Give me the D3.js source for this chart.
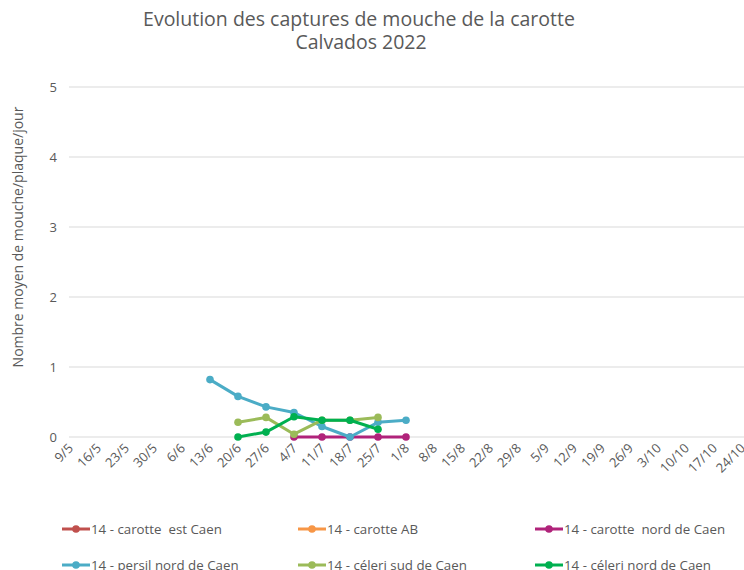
<!DOCTYPE html>
<html>
<meta charset="utf-8" />
<script src="https://d3js.org/d3.v7.min.js"></script>

<body>
    <style>
        body, html { margin: 0; padding: 0; background: #fff; overflow: hidden; }
        text { font-family: "Open Sans", sans-serif; fill: #595959; }
    </style>

    <svg id="chart"></svg>

    <script>
        var dates = ["9/5", "16/5", "23/5", "30/5", "6/6", "13/6", "20/6", "27/6", "4/7", "11/7", "18/7", "25/7",
            "1/8", "8/8", "15/8", "22/8", "29/8", "5/9", "12/9", "19/9", "26/9", "3/10", "10/10", "17/10", "24/10"];
        var yTicks = [0, 1, 2, 3, 4, 5];

        // values per week, missing = pas de relevé
        var carotteEst = {};
        var carotteAB = {};
        var carotteNord = { "4/7": 0, "11/7": 0, "18/7": 0, "25/7": 0, "1/8": 0 };
        var persilNord = { "13/6": 0.82, "20/6": 0.58, "27/6": 0.43, "4/7": 0.35, "11/7": 0.15, "18/7": 0, "25/7": 0.21, "1/8": 0.24 };
        var celeriSud = { "20/6": 0.21, "27/6": 0.28, "4/7": 0.04, "11/7": 0.24, "18/7": 0.24, "25/7": 0.28 };
        var celeriNord = { "20/6": 0, "27/6": 0.07, "4/7": 0.29, "11/7": 0.24, "18/7": 0.24, "25/7": 0.11 };

        var series = [
            { name: "14 - carotte  est Caen", color: "#c0504d", values: carotteEst },
            { name: "14 - carotte AB", color: "#f79646", values: carotteAB },
            { name: "14 - carotte  nord de Caen", color: "#b0237a", values: carotteNord },
            { name: "14 - persil nord de Caen", color: "#4bacc6", values: persilNord },
            { name: "14 - céleri sud de Caen", color: "#9bbb59", values: celeriSud },
            { name: "14 - céleri nord de Caen", color: "#00b050", values: celeriNord }
        ];

        var width = 744, height = 570;
        var svg = d3.select("#chart").attr("width", width).attr("height", height);

        var x = d3.scalePoint().domain(dates).range([70, 742]).padding(0);
        var y = d3.scaleLinear().domain([0, 5]).range([437, 87]);

        // grid
        svg.append("g").selectAll("line")
            .data(yTicks)
            .enter().append("line")
            .attr("x1", 69).attr("x2", width)
            .attr("y1", function (d) { return y(d); })
            .attr("y2", function (d) { return y(d); })
            .attr("stroke", "#d9d9d9").attr("stroke-width", 1);

        svg.append("g").selectAll("text")
            .data(yTicks)
            .enter().append("text")
            .attr("x", 57).attr("y", function (d) { return y(d) + 4.5; })
            .attr("text-anchor", "end")
            .style("font-size", "13px")
            .text(function (d) { return d; });

        svg.append("g").selectAll("text")
            .data(dates)
            .enter().append("text")
            .attr("text-anchor", "end")
            .attr("transform", function (d) { return "translate(" + (x(d) + 4) + ",449) rotate(-45)"; })
            .style("font-size", "13px")
            .text(function (d) { return d; });

        svg.append("text")
            .attr("transform", "translate(23,237) rotate(-90)")
            .attr("text-anchor", "middle")
            .style("font-size", "14px")
            .text("Nombre moyen de mouche/plaque/jour");

        svg.append("text").attr("x", 359).attr("y", 26).attr("text-anchor", "middle")
            .style("font-size", "19.5px").text("Evolution des captures de mouche de la carotte");
        svg.append("text").attr("x", 361).attr("y", 49).attr("text-anchor", "middle")
            .style("font-size", "19.5px").text("Calvados 2022");

        var line = d3.line()
            .defined(function (d) { return d.v != null; })
            .x(function (d) { return x(d.date); })
            .y(function (d) { return y(d.v); });

        series.forEach(function (s) {
            var pts = dates.map(function (d) { return { date: d, v: s.values[d] }; });
            var g = svg.append("g");
            g.append("path")
                .datum(pts)
                .attr("d", line)
                .attr("fill", "none")
                .attr("stroke", s.color)
                .attr("stroke-width", 3)
                .attr("stroke-linejoin", "round");
            g.selectAll("circle")
                .data(pts.filter(function (p) { return p.v != null; }))
                .enter().append("circle")
                .attr("cx", function (p) { return x(p.date); })
                .attr("cy", function (p) { return y(p.v); })
                .attr("r", 3.8)
                .attr("fill", s.color);
        });

        // legend
        var legX = [62, 298, 535];
        var legY = [529, 565];
        var leg = svg.append("g").selectAll("g")
            .data(series)
            .enter().append("g")
            .attr("transform", function (d, i) { return "translate(" + legX[i % 3] + "," + legY[Math.floor(i / 3)] + ")"; });
        leg.append("line").attr("x1", 0).attr("x2", 28)
            .attr("stroke", function (d) { return d.color; }).attr("stroke-width", 3);
        leg.append("circle").attr("cx", 14).attr("r", 3.8).attr("fill", function (d) { return d.color; });
        leg.append("text").attr("x", 29).attr("y", 4.8)
            .style("font-size", "13.3px")
            .style("white-space", "pre")
            .text(function (d) { return d.name; });
    </script>
</body>

</html>
